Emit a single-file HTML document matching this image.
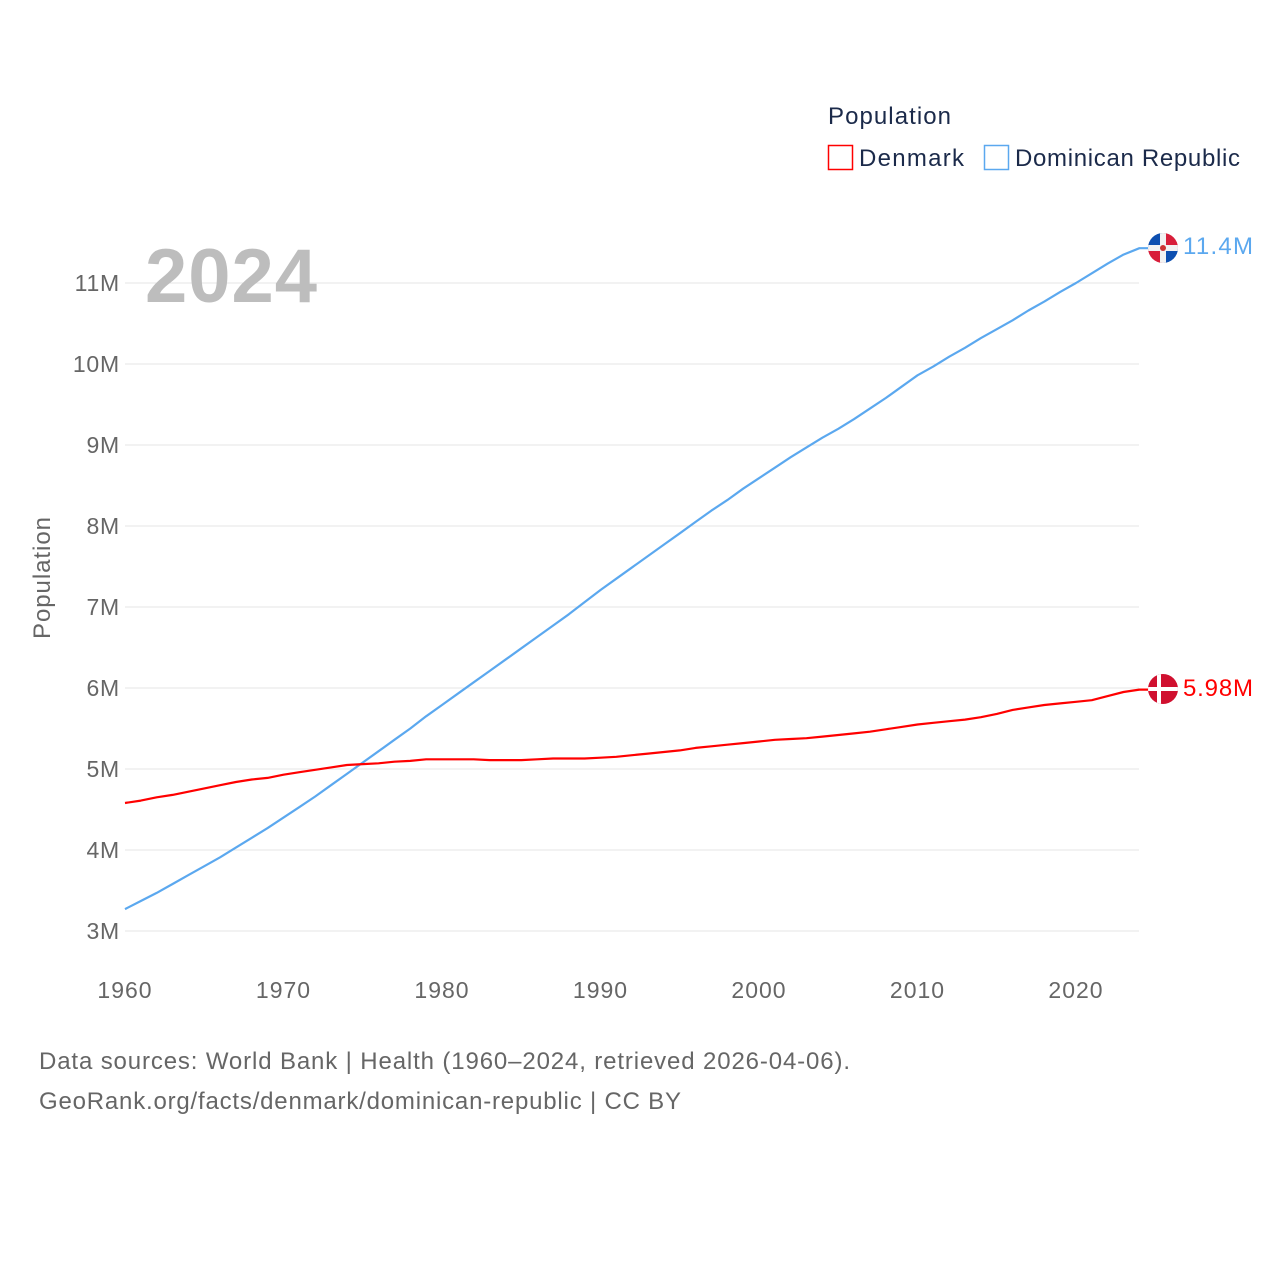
<!DOCTYPE html>
<html><head><meta charset="utf-8">
<style>
html,body{margin:0;padding:0;background:#fff;}
body{width:1280px;height:1280px;overflow:hidden;font-family:"Liberation Sans",sans-serif;}
</style></head>
<body>
<svg id="chart" width="1280" height="1280" xmlns="http://www.w3.org/2000/svg" font-family="Liberation Sans, sans-serif">
  <text x="828" y="124" font-size="24" fill="#1b2a4a" textLength="123">Population</text>
  <g>
    <rect x="828.5" y="145.5" width="24" height="24" fill="none" stroke="#ff0000" stroke-width="1.5"/>
    <text x="859" y="166" font-size="24" fill="#1b2a4a" textLength="105">Denmark</text>
  </g>
  <g>
    <rect x="984.5" y="145.5" width="24" height="24" fill="none" stroke="#5ba8ef" stroke-width="1.5"/>
    <text x="1015" y="166" font-size="24" fill="#1b2a4a" textLength="225">Dominican Republic</text>
  </g>
  <g id="grid"></g>
  <g id="yticks"></g>
  <g id="xticks"></g>
  <text x="145" y="302" font-size="76" font-weight="bold" fill="#bdbdbd" textLength="172">2024</text>
  <text transform="translate(50,578) rotate(-90)" text-anchor="middle" font-size="24" fill="#666" textLength="122">Population</text>
  <g id="series"></g>
  <g>
    <clipPath id="c1"><circle cx="1163" cy="248" r="15"/></clipPath>
    <g clip-path="url(#c1)">
      <rect x="1148" y="233" width="15" height="15" fill="#0d4fb0"/>
      <rect x="1163" y="233" width="15" height="15" fill="#d81e3a"/>
      <rect x="1148" y="248" width="15" height="15" fill="#d81e3a"/>
      <rect x="1163" y="248" width="15" height="15" fill="#0d4fb0"/>
      <rect x="1160" y="233" width="6" height="30" fill="#f2f2f2"/>
      <rect x="1148" y="245" width="30" height="6" fill="#f2f2f2"/>
      <circle cx="1163" cy="248" r="3" fill="#c33"/>
    </g>
  </g>
  <g>
    <clipPath id="c2"><circle cx="1163" cy="689" r="15"/></clipPath>
    <g clip-path="url(#c2)">
      <rect x="1148" y="674" width="30" height="30" fill="#d0102f"/>
      <rect x="1157" y="674" width="4" height="30" fill="#fff"/>
      <rect x="1148" y="687" width="30" height="4" fill="#fff"/>
    </g>
  </g>
  <text x="1183" y="254" font-size="24" fill="#5ba8ef" textLength="70">11.4M</text>
  <text x="1183" y="696" font-size="24" fill="#ff0000" textLength="70">5.98M</text>
  <text x="39" y="1069" font-size="24" fill="#666" textLength="811">Data sources: World Bank | Health (1960–2024, retrieved 2026-04-06).</text>
  <text x="39" y="1109" font-size="24" fill="#666" textLength="642">GeoRank.org/facts/denmark/dominican-republic | CC BY</text>
</svg>
<script>
const startYear = 1960;
const yTickValues = [3,4,5,6,7,8,9,10,11];
const yTickLabels = ["3M","4M","5M","6M","7M","8M","9M","10M","11M"];
const xTickYears = [1960,1970,1980,1990,2000,2010,2020];
const denmark = [4.58,4.61,4.65,4.68,4.72,4.76,4.80,4.84,4.87,4.89,4.93,4.96,4.99,5.02,5.05,5.06,5.07,5.09,5.10,5.12,5.12,5.12,5.12,5.11,5.11,5.11,5.12,5.13,5.13,5.13,5.14,5.15,5.17,5.19,5.21,5.23,5.26,5.28,5.30,5.32,5.34,5.36,5.37,5.38,5.40,5.42,5.44,5.46,5.49,5.52,5.55,5.57,5.59,5.61,5.64,5.68,5.73,5.76,5.79,5.81,5.83,5.85,5.90,5.95,5.98];
const dominican = [3.27,3.37,3.47,3.58,3.69,3.80,3.91,4.03,4.15,4.27,4.40,4.53,4.66,4.80,4.94,5.08,5.22,5.36,5.50,5.65,5.79,5.93,6.07,6.21,6.35,6.49,6.63,6.77,6.91,7.06,7.21,7.35,7.49,7.63,7.77,7.91,8.05,8.19,8.32,8.46,8.59,8.72,8.85,8.97,9.09,9.20,9.32,9.45,9.58,9.72,9.86,9.97,10.09,10.20,10.32,10.43,10.54,10.66,10.77,10.89,11.00,11.12,11.24,11.35,11.43];

const NS="http://www.w3.org/2000/svg";
const xScale = yr => 125 + (yr-1960)*(951/60);
const yScale = v => 931 - (v-3)*81;
const grid=document.getElementById('grid'), yt=document.getElementById('yticks'), xt=document.getElementById('xticks'), ser=document.getElementById('series');
yTickValues.forEach((v,i)=>{
  const l=document.createElementNS(NS,'line');
  l.setAttribute('x1',125);l.setAttribute('x2',1139);
  l.setAttribute('y1',yScale(v));l.setAttribute('y2',yScale(v));
  l.setAttribute('stroke','#e6e6e6');l.setAttribute('stroke-width','1');
  
  
  grid.appendChild(l);
  const t=document.createElementNS(NS,'text');
  t.setAttribute('x',120);t.setAttribute('y',yScale(v)+8);
  t.setAttribute('text-anchor','end');t.setAttribute('font-size','23');t.setAttribute('fill','#666');
  t.setAttribute('letter-spacing','0.8');
  t.textContent=yTickLabels[i];
  
  
  yt.appendChild(t);
});
xTickYears.forEach(y=>{
  const t=document.createElementNS(NS,'text');
  t.setAttribute('x',xScale(y));t.setAttribute('y',998);
  t.setAttribute('text-anchor','middle');t.setAttribute('font-size','23');t.setAttribute('fill','#666');
  t.setAttribute('letter-spacing','1');
  t.textContent=y;
  
  
  xt.appendChild(t);
});
function drawLine(vals,color,name){
  let d=vals.map((v,i)=>(i?'L':'M')+xScale(startYear+i).toFixed(1)+','+yScale(v).toFixed(1)).join(' ');
  d+=' L1148,'+yScale(vals[vals.length-1]).toFixed(1);
  const p=document.createElementNS(NS,'path');
  p.setAttribute('d',d);p.setAttribute('fill','none');p.setAttribute('stroke',color);
  p.setAttribute('stroke-width','2.2');p.setAttribute('stroke-linejoin','round');
  
  
  ser.appendChild(p);
}
drawLine(dominican,'#5ba8ef','line-dominican-republic');
drawLine(denmark,'#ff0000','line-denmark');
</script>
</body></html>
